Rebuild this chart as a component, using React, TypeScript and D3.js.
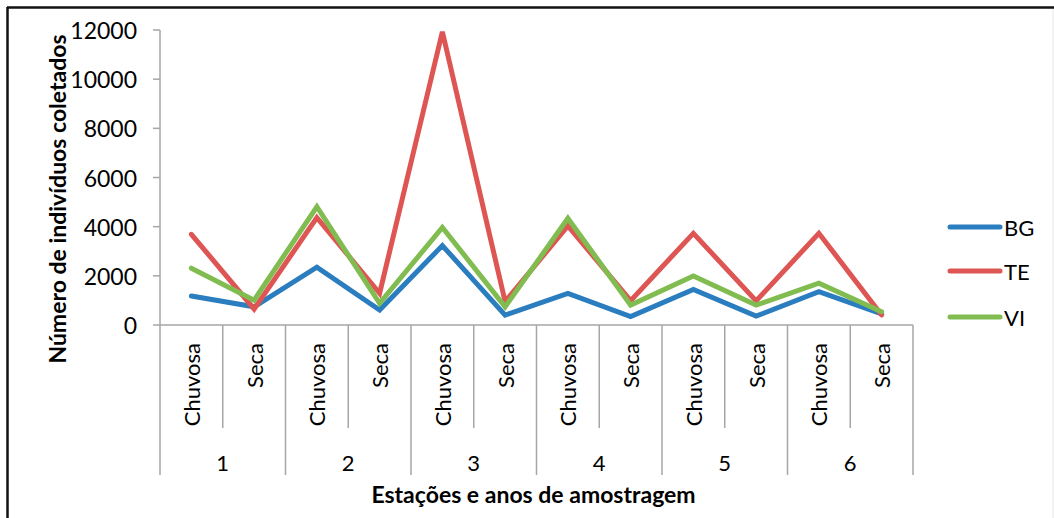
import React from "react";
import * as d3 from "d3";

const seasons = ["Chuvosa", "Seca", "Chuvosa", "Seca", "Chuvosa", "Seca", "Chuvosa", "Seca", "Chuvosa", "Seca", "Chuvosa", "Seca"];
const years = ["1", "2", "3", "4", "5", "6"];
const yTicks = [0, 2000, 4000, 6000, 8000, 10000, 12000];
const seriesNames = ["BG", "TE", "VI"];
const bgValues = [1180, 740, 2350, 610, 3230, 400, 1290, 340, 1450, 360, 1360, 450];
const teValues = [3690, 650, 4370, 1290, 11930, 950, 4030, 990, 3730, 980, 3730, 410];
const viValues = [2310, 1010, 4810, 880, 3970, 740, 4340, 810, 1990, 810, 1700, 540];
const colors = ["#2A7DBF", "#DE5653", "#80BC4F"];

const FONT = "Lato, 'Open Sans', sans-serif";

export default function App() {
  const W = 1054, H = 518;
  const left = 160, right = 913, top = 30, bottom = 325;
  const idx = seasons.map((_, i) => i);
  const x = d3.scaleBand<number>().domain(idx).range([left, right]).padding(0);
  const y = d3.scaleLinear().domain([0, 12000]).range([bottom, top]);
  const cx = (i: number) => (x(i) as number) + x.bandwidth() / 2;
  const line = d3.line<number>().x((_, i) => cx(i)).y((v) => y(v)).curve(d3.curveLinear);
  const allSeries = [bgValues, teValues, viValues];
  const bw = x.bandwidth();
  const axisColor = "#A6A6A6";

  return (
    <svg width={W} height={H} style={{ position: "absolute", left: 0, top: 0, background: "#fff" }} fontFamily={FONT}>
      <rect x={0} y={0} width={W} height={H} fill="#fff" />
      {/* frame */}
      <line x1={7} y1={7.5} x2={W} y2={7.5} stroke="#111" strokeWidth={2.5} />
      <line x1={7.5} y1={7} x2={7.5} y2={H} stroke="#111" strokeWidth={2.5} />
      <line x1={W - 1} y1={9} x2={W - 1} y2={H} stroke="#E6E6E6" strokeWidth={1} />

      {/* y axis */}
      <line x1={left} y1={y(12000)} x2={left} y2={bottom} stroke={axisColor} strokeWidth={1.5} />
      {yTicks.map((t) => (
        <g key={t}>
          <line x1={left - 7} x2={left} y1={y(t)} y2={y(t)} stroke={axisColor} strokeWidth={1.5} />
          <text x={137} y={y(t)} textAnchor="end" dominantBaseline="central" fontSize={23} fill="#000">
            {t}
          </text>
        </g>
      ))}

      {/* x axis */}
      <line x1={left} y1={bottom} x2={right} y2={bottom} stroke={axisColor} strokeWidth={1.5} />
      {d3.range(seasons.length + 1).map((k) => {
        const xx = left + k * bw;
        const long = k % 2 === 0;
        return <line key={k} x1={xx} x2={xx} y1={bottom} y2={long ? 475 : 428} stroke={axisColor} strokeWidth={1.5} />;
      })}
      {seasons.map((s, i) => (
        <text key={i} transform={`translate(${cx(i)},343) rotate(-90)`} textAnchor="end" dominantBaseline="central" fontSize={22} fill="#000">
          {s}
        </text>
      ))}
      {years.map((g, j) => (
        <text key={g} x={left + (2 * j + 1) * bw} y={462} textAnchor="middle" dominantBaseline="central" fontSize={22} fill="#000">
          {g}
        </text>
      ))}

      {/* titles */}
      <text x={(left + right) / 2 - 3} y={494} textAnchor="middle" dominantBaseline="central" fontSize={23} fontWeight="bold" fill="#000">
        Estações e anos de amostragem
      </text>
      <text transform={`translate(57,199) rotate(-90)`} textAnchor="middle" dominantBaseline="central" fontSize={23} fontWeight="bold" fill="#000">
        Número de indivíduos coletados
      </text>

      {/* series */}
      {allSeries.map((vals, si) => (
        <path key={si} d={line(vals) as string} fill="none" stroke={colors[si]} strokeWidth={5} strokeLinejoin="miter" strokeLinecap="round" />
      ))}

      {/* legend */}
      {seriesNames.map((n, i) => {
        const ly = [227, 271, 317][i];
        return (
          <g key={n}>
            <line x1={950} x2={1000} y1={ly} y2={ly} stroke={colors[i]} strokeWidth={5} strokeLinecap="round" />
            <text x={1004} y={ly} dominantBaseline="central" fontSize={22} fill="#000">
              {n}
            </text>
          </g>
        );
      })}
    </svg>
  );
}
